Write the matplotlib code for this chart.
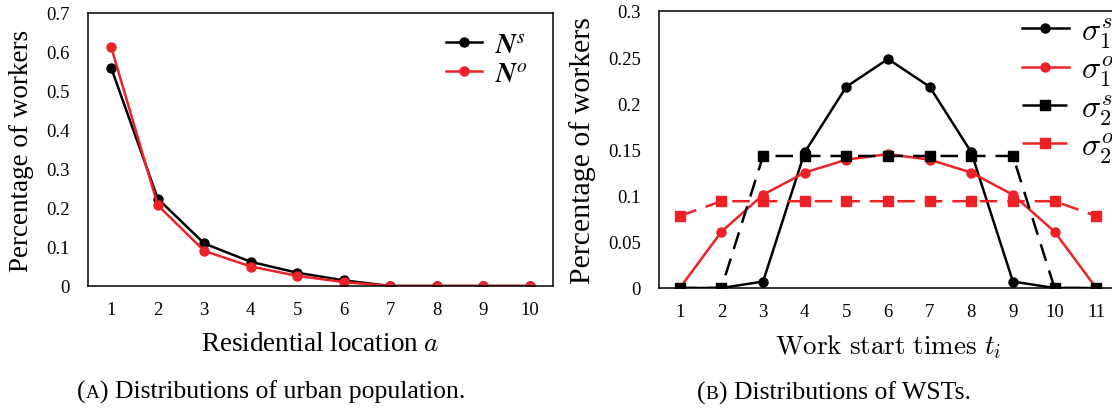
import matplotlib

matplotlib.use("Agg")
import matplotlib.pyplot as plt
from matplotlib.ticker import FuncFormatter
from matplotlib.offsetbox import TextArea, HPacker, AnnotationBbox

# ---- data -------------------------------------------------------------
locations = [1, 2, 3, 4, 5, 6, 7, 8, 9, 10]
n_s = [0.559, 0.224, 0.109, 0.062, 0.034, 0.0145, 0, 0, 0, 0]
n_o = [0.612, 0.207, 0.090, 0.050, 0.026, 0.010, 0, 0, 0, 0]

wst = [1, 2, 3, 4, 5, 6, 7, 8, 9, 10, 11]
sigma1_s = [0, 0, 0.007, 0.147, 0.218, 0.248, 0.218, 0.147, 0.007, 0, 0]
sigma1_o = [0, 0.061, 0.101, 0.125, 0.139, 0.145, 0.139, 0.125, 0.101, 0.061, 0]
sigma2_s = [0, 0, 0.143, 0.143, 0.143, 0.143, 0.143, 0.143, 0.143, 0, 0]
sigma2_o = [0.078, 0.094, 0.094, 0.094, 0.094, 0.094, 0.094, 0.094, 0.094, 0.094, 0.078]

RED = "#ec2227"
SERIF = "Liberation Serif"

plt.rcParams["font.family"] = [SERIF, "DejaVu Serif"]
plt.rcParams["mathtext.fontset"] = "cm"

fig = plt.figure(figsize=(11.12, 4.10), dpi=100)
ax1 = fig.add_axes([88 / 1112, 1 - 287 / 410, 465 / 1112, 273 / 410])
ax2 = fig.add_axes([659 / 1112, 1 - 289 / 410, 458 / 1112, 277 / 410])

fmt = FuncFormatter(lambda v, _: f"{v:g}")


def style(ax):
    for sp in ax.spines.values():
        sp.set_linewidth(1.1)
        sp.set_color("black")
    ax.tick_params(length=0, labelsize=13.5)
    ax.tick_params(axis="y", pad=13)
    ax.tick_params(axis="x", pad=11)
    ax.yaxis.set_major_formatter(fmt)


# (a) urban population
ax1.plot(locations, n_s, color="black", lw=1.8, marker="o", ms=6.5, label=r"$\mathbfit{N}^s$")
ax1.plot(locations, n_o, color=RED, lw=1.8, marker="o", ms=6.5, label=r"$\mathbfit{N}^o$")
ax1.set_xlim(0.5, 10.5)
ax1.set_ylim(0, 0.7)
ax1.set_xticks(locations)
ax1.set_yticks([0, 0.1, 0.2, 0.3, 0.4, 0.5, 0.6, 0.7])
style(ax1)
ax1.set_ylabel("Percentage of workers", fontsize=19.5)
ax1.yaxis.label.set_va("center")
ax1.yaxis.set_label_coords(-0.142, 0.5)
ax1.set_xlabel("Residential location $a$", fontsize=19.5)
ax1.xaxis.label.set_va("center")
ax1.xaxis.set_label_coords(0.5, -0.212)
ax1.legend(loc="upper left", bbox_to_anchor=(0.77, 0.93), frameon=False,
           borderpad=0, borderaxespad=0, handlelength=1.3, handletextpad=0.45,
           labelspacing=0.15, prop={"size": 20, "math_fontfamily": "stix"})

# (b) work start times
ax2.plot(wst, sigma1_s, color="black", lw=1.8, marker="o", ms=6.5, label=r"$\sigma_1^s$")
ax2.plot(wst, sigma1_o, color=RED, lw=1.8, marker="o", ms=6.5, label=r"$\sigma_1^o$")
ax2.plot(wst, sigma2_s, color="black", lw=1.8, marker="s", ms=6.5, dashes=(7, 4),
         label=r"$\sigma_2^s$")
ax2.plot(wst, sigma2_o, color=RED, lw=1.8, marker="s", ms=6.5, dashes=(7, 4),
         label=r"$\sigma_2^o$")
ax2.set_xlim(0.5, 11.5)
ax2.set_ylim(0, 0.3)
ax2.set_xticks(wst)
ax2.set_yticks([0, 0.05, 0.1, 0.15, 0.2, 0.25, 0.3])
style(ax2)
ax2.set_ylabel("Percentage of workers", fontsize=21.5)
ax2.yaxis.label.set_va("center")
ax2.yaxis.set_label_coords(-0.166, 0.5)
ax2.set_xlabel(r"$\mathrm{Work\ start\ times}\ t_i$", fontsize=19.5)
ax2.xaxis.label.set_va("center")
ax2.xaxis.set_label_coords(0.5, -0.209)
ax2.legend(loc="upper left", bbox_to_anchor=(0.793, 0.985), frameon=False,
           borderpad=0, borderaxespad=0, handlelength=1.45, handletextpad=0.4,
           labelspacing=0.12, prop={"size": 23})


# captions with small-caps letters
def caption(letter, rest, x, y, size=18.5):
    parts = [
        TextArea("(", textprops=dict(size=size, family=SERIF)),
        TextArea(letter, textprops=dict(size=size * 0.75, family=SERIF)),
        TextArea(") " + rest, textprops=dict(size=size, family=SERIF)),
    ]
    box = HPacker(children=parts, align="baseline", pad=0, sep=0)
    ab = AnnotationBbox(box, (x, y), xycoords="figure pixels", frameon=False,
                        box_alignment=(0.5, 0.5))
    fig.add_artist(ab)


caption("A", "Distributions of urban population.", 271, 410 - 392)
caption("B", "Distributions of WSTs.", 834, 410 - 393)

fig.savefig("out.png", dpi=100)
